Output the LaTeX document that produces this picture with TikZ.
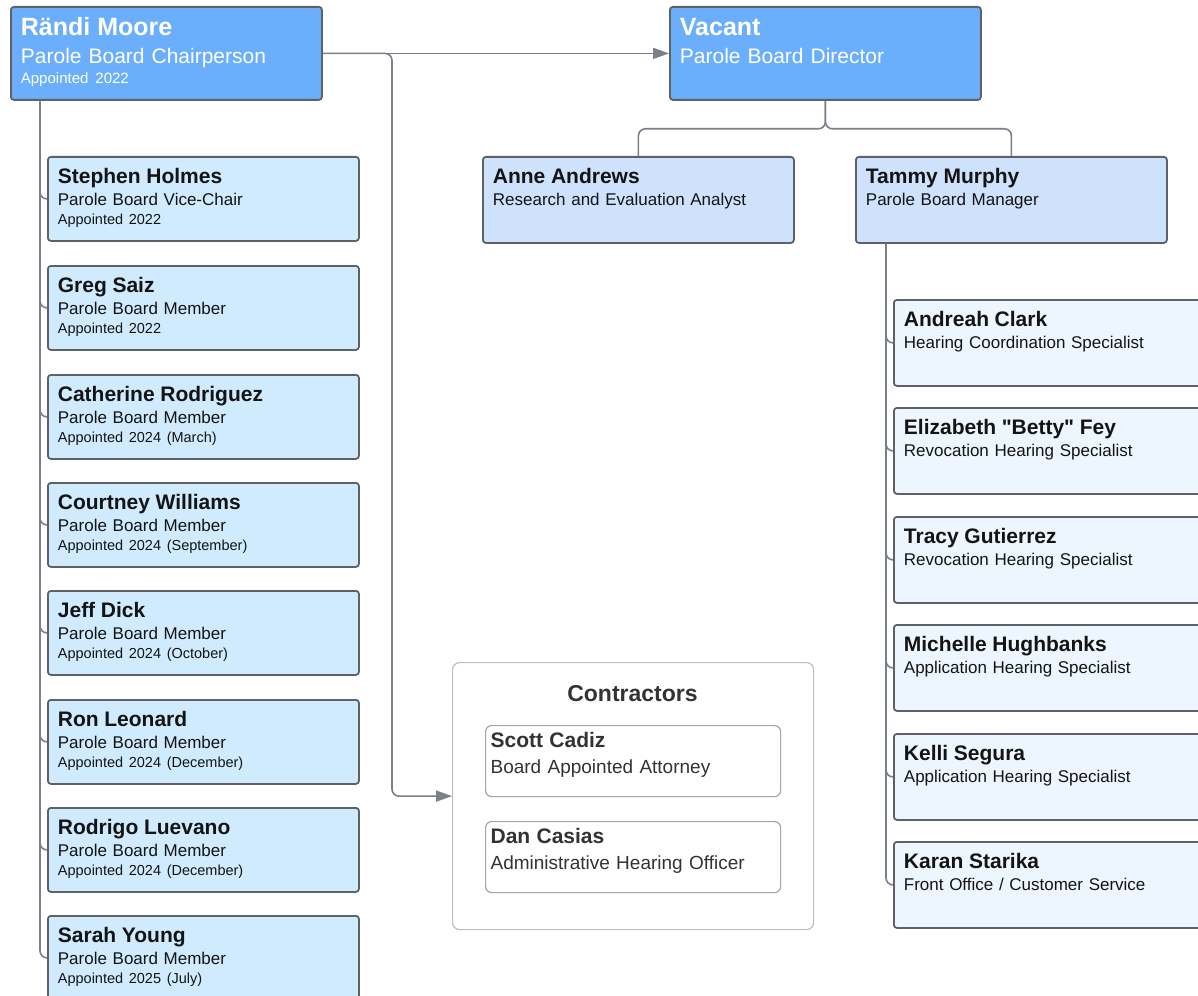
\documentclass[tikz,border=0pt]{standalone}
\usepackage{fontspec}
\setmainfont{Liberation Sans}
\usepackage{xcolor}
\usetikzlibrary{arrows.meta}

\definecolor{chairblue}{HTML}{6BAFFC}
\definecolor{memberblue}{HTML}{CFEBFD}
\definecolor{leadblue}{HTML}{CFE2FC}
\definecolor{staffblue}{HTML}{EDF5FE}
\definecolor{edgegray}{HTML}{5E6167}
\definecolor{linkgray}{HTML}{7A7F8A}
\definecolor{framegray}{HTML}{BBBFC6}
\definecolor{cardgray}{HTML}{A3A7AE}
\definecolor{inkblack}{HTML}{141414}
\definecolor{inkgray}{HTML}{333333}

\newcommand{\chieffnt}{\fontsize{25}{30}\selectfont\bfseries}
\newcommand{\namefnt}{\fontsize{21}{25}\selectfont\bfseries}
\newcommand{\apptfnt}{\fontsize{14.5}{17}\selectfont}
\newcommand{\membercard}[3]{{\namefnt #1}\\[1pt]#2\\[-2pt]{\apptfnt #3}}
\newcommand{\staffcard}[2]{{\namefnt #1}\\[1pt]#2}

\begin{document}
\begin{tikzpicture}[x=1pt,y=-1pt,
  box/.style={draw=edgegray, line width=1.8pt, rounded corners=3pt, anchor=north west,
    align=left, inner xsep=10pt, inner ysep=0pt, text width=291pt, text=inkblack},
  chair/.style={box, fill=chairblue, text=white, text height=29pt, text depth=64pt,
    font=\fontsize{21}{26}\selectfont},
  member/.style={box, fill=memberblue, text height=27pt, text depth=57pt,
    font=\fontsize{17}{21}\selectfont},
  lead/.style={member, fill=leadblue, text depth=59pt},
  staff/.style={member, fill=staffblue, text depth=59pt},
  contractor/.style={box, draw=cardgray, line width=1.2pt, rounded corners=6pt, fill=white,
    inner xsep=5pt, text width=285pt, text height=22pt, text depth=49pt, text=inkgray,
    font=\fontsize{19}{25}\selectfont},
  link/.style={draw=linkgray, line width=1.6pt, rounded corners=7pt},
  arrowlink/.style={link, -{Triangle[length=16pt,width=11pt]}}
]
\useasboundingbox (0,0) rectangle (1198,995);
\clip (0,0) rectangle (1198,995);
\fill[white] (0,0) rectangle (1198,995);

% top level
\node[chair] (randi) at (10,6) {{\chieffnt Rändi Moore}\\[2pt]Parole Board Chairperson\\[-6pt]{\fontsize{15}{18}\selectfont Appointed 2022}};
\node[chair] (vacant) at (669,6) {{\chieffnt Vacant}\\[2pt]Parole Board Director};

% under the director
\node[lead] (anne) at (482,156) {\staffcard{Anne Andrews}{Research and Evaluation Analyst}};
\node[lead] (tammy) at (855,156) {\staffcard{Tammy Murphy}{Parole Board Manager}};

% board members
\coordinate (rtrunk) at ([xshift=30pt]randi.south west);
\foreach \nm/\ttl/\appt/\y [count=\i] in {
    Stephen Holmes/Parole Board Vice-Chair/Appointed 2022/156,
    Greg Saiz/Parole Board Member/Appointed 2022/265,
    Catherine Rodriguez/Parole Board Member/Appointed 2024 (March)/374,
    Courtney Williams/Parole Board Member/Appointed 2024 (September)/482,
    Jeff Dick/Parole Board Member/Appointed 2024 (October)/590,
    Ron Leonard/Parole Board Member/Appointed 2024 (December)/699,
    Rodrigo Luevano/Parole Board Member/Appointed 2024 (December)/807,
    Sarah Young/Parole Board Member/Appointed 2025 (July)/915} {
  \node[member] (m\i) at (47,\y) {\membercard{\nm}{\ttl}{\appt}};
  \draw[link] (rtrunk) |- (m\i.west);
}

% staff under the manager
\coordinate (ttrunk) at ([xshift=31pt]tammy.south west);
\foreach \nm/\ttl/\y [count=\i] in {
    Andreah Clark/Hearing Coordination Specialist/299,
    Elizabeth \textquotedbl Betty\textquotedbl{} Fey/Revocation Hearing Specialist/407,
    Tracy Gutierrez/Revocation Hearing Specialist/516,
    Michelle Hughbanks/Application Hearing Specialist/624,
    Kelli Segura/Application Hearing Specialist/733,
    Karan Starika/{Front Office / Customer Service}/841} {
  \node[staff] (s\i) at (893,\y) {\staffcard{\nm}{\ttl}};
  \draw[link] (ttrunk) |- (s\i.west);
}

% contractors
\node[draw=framegray, line width=1.2pt, rounded corners=7pt, anchor=north west,
  minimum width=361pt, minimum height=267pt, inner sep=0pt] (contractors) at (452,662) {};
\node[anchor=base, font=\fontsize{23}{27}\selectfont\bfseries, text=inkgray] (ctitle) at (632.5,701) {Contractors};
\node[contractor] (scott) at (485,725) {\staffcard{Scott Cadiz}{Board Appointed Attorney}};
\node[contractor] (dan) at (485,821) {\staffcard{Dan Casias}{Administrative Hearing Officer}};

% connectors
\coordinate (vfork) at ([yshift=-28pt]vacant.south);
\coordinate (cbend) at ([xshift=-60pt]contractors.west);
\draw[arrowlink] (randi.east) -- (vacant.west);
\draw[arrowlink] (randi.east) -| (cbend) -- (contractors.west);
\draw[link] (vacant.south) -- (vfork) -| (anne.north);
\draw[link] (vacant.south) -- (vfork) -| (tammy.north);
\end{tikzpicture}
\end{document}
